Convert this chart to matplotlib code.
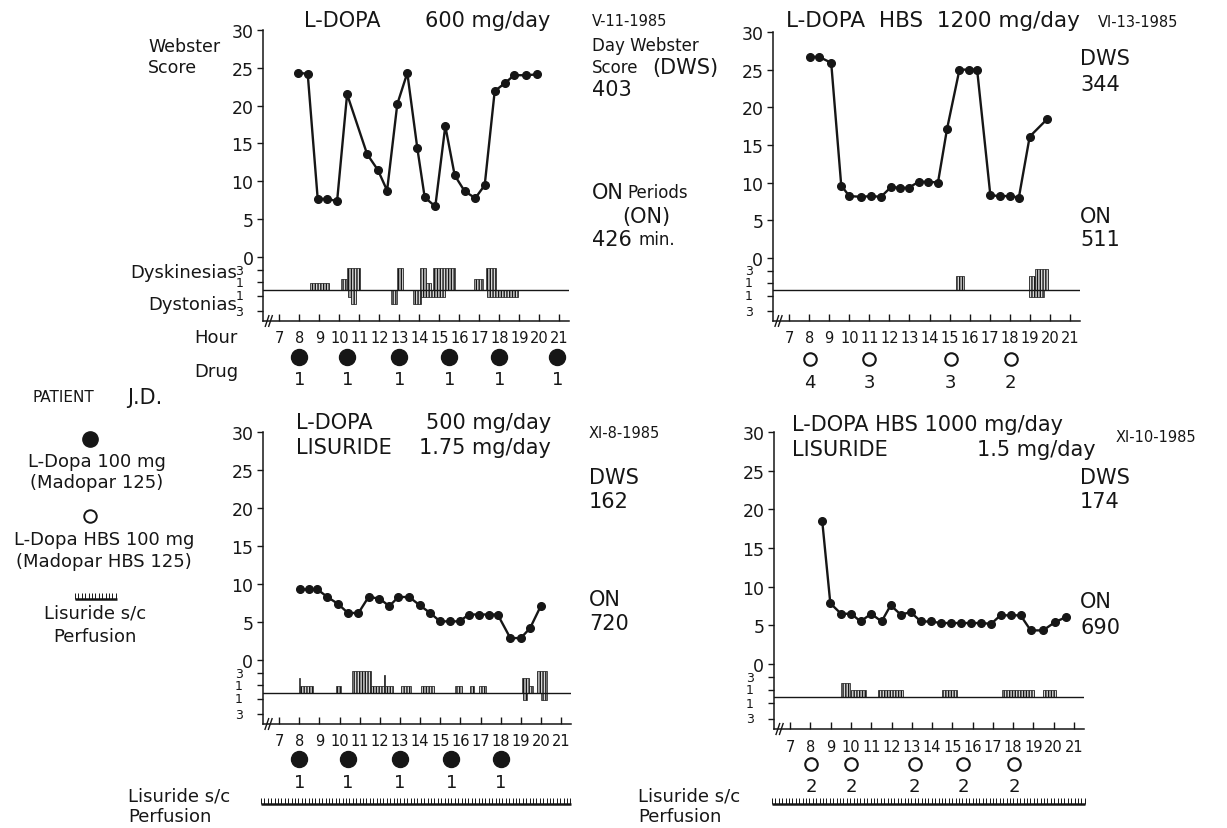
import numpy as np
import matplotlib
matplotlib.use('Agg')
import matplotlib.pyplot as plt
from matplotlib import font_manager
from matplotlib.transforms import blended_transform_factory

# Webster score readings, hour of day vs score
tl_hours = [7.95, 8.42, 8.92, 9.39, 9.89, 10.39, 11.39, 11.93, 12.39, 12.9, 13.4, 13.9,
            14.27, 14.8, 15.3, 15.77, 16.27, 16.8, 17.27, 17.77, 18.3, 18.74, 19.33, 19.86]
tl_score = [24.3, 24.2, 7.7, 7.7, 7.4, 21.5, 13.6, 11.5, 8.8, 20.2, 24.3, 14.4,
            7.9, 6.7, 17.3, 10.8, 8.7, 7.8, 9.5, 21.9, 23.0, 24.0, 24.0, 24.1]

tr_hours = [8.05, 8.5, 9.1, 9.6, 10.0, 10.59, 11.09, 11.58, 12.08, 12.55, 12.96, 13.46,
            13.93, 14.42, 14.87, 15.49, 15.95, 16.37, 17.03, 17.53, 18.03, 18.45, 18.99, 19.85]
tr_score = [26.7, 26.7, 25.9, 9.6, 8.2, 8.1, 8.2, 8.1, 9.4, 9.3, 9.3, 10.1,
            10.1, 10.0, 17.1, 25.0, 25.0, 25.0, 8.3, 8.2, 8.2, 8.0, 16.1, 18.4]

bl_hours = [8.03, 8.48, 8.9, 9.4, 9.92, 10.42, 10.94, 11.44, 11.98, 12.47, 12.92, 13.46,
            13.99, 14.5, 14.99, 15.47, 15.96, 16.42, 16.91, 17.41, 17.85, 18.48, 19.0, 19.46, 19.99]
bl_score = [9.3, 9.3, 9.3, 8.3, 7.4, 6.2, 6.2, 8.3, 8.1, 7.1, 8.3, 8.3,
            7.2, 6.2, 5.1, 5.1, 5.1, 6.0, 6.0, 6.0, 6.0, 2.9, 2.9, 4.2, 7.1]

br_hours = [8.58, 8.98, 9.51, 10.02, 10.47, 11.0, 11.51, 11.96, 12.45, 12.95, 13.45, 13.94,
            14.44, 14.93, 15.43, 15.93, 16.42, 16.92, 17.38, 17.88, 18.37, 18.87, 19.48, 20.06, 20.59]
br_score = [18.5, 7.85, 6.5, 6.5, 5.5, 6.5, 5.5, 7.6, 6.4, 6.7, 5.5, 5.5,
            5.3, 5.3, 5.3, 5.3, 5.3, 5.2, 6.3, 6.3, 6.3, 4.35, 4.35, 5.4, 6.05]

# dyskinesia / dystonia episodes: (start hour, end hour, intensity)
tl_dysk = [(8.53, 9.5, 1), (10.06, 10.4, 1.5), (10.4, 11.03, 3), (12.9, 13.16, 3),
           (14.02, 14.35, 3), (14.35, 14.6, 1), (14.69, 15.77, 3), (16.72, 17.18, 1.5),
           (17.35, 17.85, 3)]
tl_dyst = [(10.45, 10.6, 1), (10.6, 10.83, 2), (12.6, 12.9, 2), (13.69, 14.1, 2),
           (14.1, 15.27, 1), (17.38, 18.93, 1)]

tr_dysk = [(15.31, 15.71, 2), (18.94, 19.25, 2), (19.25, 19.92, 3)]
tr_dyst = [(18.94, 19.7, 1)]

bl_dysk = [(7.99, 8.03, 2), (8.03, 8.66, 1), (9.81, 10.09, 1), (10.63, 11.57, 3),
           (11.57, 12.2, 1), (12.2, 12.25, 2.5), (12.25, 12.64, 1), (13.05, 13.54, 1),
           (14.04, 14.7, 1), (15.73, 16.09, 1), (16.5, 16.7, 1), (16.91, 17.28, 1),
           (19.05, 19.43, 2), (19.43, 19.63, 1), (19.82, 20.29, 3)]
bl_dyst = [(19.13, 19.33, 1), (19.99, 20.29, 1)]

br_dysk = [(9.53, 9.93, 2), (9.98, 10.72, 1), (11.35, 12.57, 1), (14.49, 15.21, 1),
           (17.46, 19.02, 1), (19.48, 20.11, 1)]
br_dyst = []

# drug intake: hour and number of tablets
tl_drug_hours = [8.0, 10.4, 13.0, 15.5, 18.0, 20.9]
tl_drug_units = [1, 1, 1, 1, 1, 1]
tr_drug_hours = [8.05, 11.0, 15.05, 18.05]
tr_drug_units = [4, 3, 3, 2]
bl_drug_hours = [8.0, 10.4, 13.0, 15.55, 18.0]
bl_drug_units = [1, 1, 1, 1, 1]
br_drug_hours = [8.05, 10.0, 13.15, 15.55, 18.05]
br_drug_units = [2, 2, 2, 2, 2]

hour_labels = list(range(7, 22))
score_ticks = [0, 5, 10, 15, 20, 25, 30]

W, H = 1227, 829
INK = '#161616'
BASE = -4.3     # dyskinesia/dystonia zero line
LEVEL = 0.95    # height of one intensity step
YMIN = -8.4

plt.rcParams['font.family'] = 'DejaVu Sans'
plt.rcParams['hatch.linewidth'] = 1.0
plt.rcParams['hatch.color'] = INK
names = {f.name for f in font_manager.fontManager.ttflist}
if 'Liberation Sans Narrow' in names:
    HOUR_FONT, HOUR_SIZE = 'Liberation Sans Narrow', 13.5
else:
    HOUR_FONT, HOUR_SIZE = 'DejaVu Sans', 10.5

fig = plt.figure(figsize=(W / 100, H / 100), dpi=100)
fig.patch.set_facecolor('white')

# overlay in pixel coordinates for the free text
ov = fig.add_axes([0, 0, 1, 1])
ov.set_xlim(0, W)
ov.set_ylim(H, 0)
ov.axis('off')


def txt(x, y, s, size=13, ha='left', **kw):
    ov.text(x, y, s, fontsize=size, ha=ha, va='center', color=INK, **kw)


def perfusion(x0, x1, y):
    ov.hlines(y, x0, x1, color=INK, lw=1.8)
    ov.vlines(np.arange(x0, x1, 3.4), y - 6, y, color=INK, lw=0.7)


def episodes(ax, spans, sign):
    for s, e, lv in spans:
        ax.bar(s, sign * lv * LEVEL, e - s, bottom=BASE, align='edge',
               facecolor='#d8d8d8', edgecolor=INK, hatch='||||||', lw=0.5)


def panel(left, top, bottom, px_hr, hours, score, dysk, dyst,
          drug_hours, drug_units, filled, hour_y, circle_y, unit_y):
    width = 15.3 * px_hr
    ax = fig.add_axes([left / W, 1 - bottom / H, width / W, (bottom - top) / H])
    ax.set_xlim(6.2, 21.5)
    ax.set_ylim(YMIN, 30)
    ax.patch.set_alpha(0)
    for s in ('top', 'right'):
        ax.spines[s].set_visible(False)
    for s in ('left', 'bottom'):
        ax.spines[s].set_linewidth(1.1)
        ax.spines[s].set_color(INK)

    ax.plot(hours, score, '-o', color=INK, lw=1.7, ms=5.5, zorder=3)

    ax.axhline(BASE, color=INK, lw=1.0)
    episodes(ax, dysk, 1)
    episodes(ax, dyst, -1)

    small = [-1.7, -3.3, -5.05, -7.1]
    ax.set_yticks(score_ticks + small)
    ax.set_yticklabels([str(t) for t in score_ticks] + [''] * len(small))
    ax.tick_params(axis='y', direction='out', length=4, width=1, pad=3,
                   labelsize=12.5, colors=INK)
    yt = ax.get_yaxis_transform()
    for yv, lab in zip(small, ['3', '1', '1', '3']):
        ax.text(-0.066, yv, lab, transform=yt, ha='right', va='center',
                fontsize=9, color=INK)

    ax.set_xticks(hour_labels)
    ax.set_xticklabels([])
    ax.tick_params(axis='x', direction='in', length=5, width=1, colors=INK)

    # axis break on the hour axis
    for dx in (0.0, 0.17):
        ax.plot([6.3 + dx, 6.48 + dx], [YMIN - 0.7, YMIN + 0.7], color=INK,
                lw=1.0, clip_on=False)

    blend = blended_transform_factory(ax.transData, ov.transData)
    for h in hour_labels:
        ax.text(h, hour_y, str(h), transform=blend, ha='center', va='center',
                fontsize=HOUR_SIZE, family=HOUR_FONT, color=INK)
    if filled:
        ax.plot(drug_hours, [circle_y] * len(drug_hours), 'o', transform=blend,
                ms=11.5, color=INK, clip_on=False)
    else:
        ax.plot(drug_hours, [circle_y] * len(drug_hours), 'o', transform=blend,
                ms=9, mfc='white', mec=INK, mew=1.5, clip_on=False)
    for h, u in zip(drug_hours, drug_units):
        ax.text(h, unit_y, str(u), transform=blend, ha='center', va='center',
                fontsize=13, color=INK)
    return ax


panel(263.3, 30.7, 322, 20.0, tl_hours, tl_score, tl_dysk, tl_dyst,
      tl_drug_hours, tl_drug_units, True, 338, 358, 380)
panel(773, 33, 322, 20.07, tr_hours, tr_score, tr_dysk, tr_dyst,
      tr_drug_hours, tr_drug_units, False, 338, 360, 383)
panel(263, 433, 725, 20.14, bl_hours, bl_score, bl_dysk, bl_dyst,
      bl_drug_hours, bl_drug_units, True, 742, 760, 783)
panel(774, 433, 730, 20.26, br_hours, br_score, br_dysk, br_dyst,
      br_drug_hours, br_drug_units, False, 748, 765, 787)

# top left
txt(304, 21, 'L-DOPA', 15)
txt(550, 21, '600 mg/day', 15, ha='right')
txt(148, 47, 'Webster', 12.5)
txt(148, 68, 'Score', 12.5)
txt(592, 21, 'V-11-1985', 10.5)
txt(592, 46, 'Day Webster', 12)
txt(592, 68, 'Score', 12)
txt(652, 68, '(DWS)', 15)
txt(592, 90, '403', 15)
txt(592, 193, 'ON', 15)
txt(627, 193, 'Periods', 12)
txt(646, 217, '(ON)', 15, ha='center')
txt(592, 240, '426', 15)
txt(639, 240, 'min.', 12)
txt(237, 273, 'Dyskinesias', 13, ha='right')
txt(237, 305, 'Dystonias', 13, ha='right')
txt(238, 338, 'Hour', 13, ha='right')
txt(238, 372, 'Drug', 13, ha='right')

# top right
txt(786, 21, 'L-DOPA  HBS  1200 mg/day', 15.5)
txt(1098, 22, 'VI-13-1985', 10.5)
txt(1080, 59, 'DWS', 15)
txt(1080, 85, '344', 15)
txt(1080, 217, 'ON', 15)
txt(1080, 240, '511', 15)

# bottom left
txt(296, 423, 'L-DOPA', 15)
txt(551, 423, '500 mg/day', 15, ha='right')
txt(296, 448, 'LISURIDE', 15)
txt(551, 448, '1.75 mg/day', 15, ha='right')
txt(589, 433, 'XI-8-1985', 10.5)
txt(589, 478, 'DWS', 15)
txt(589, 502, '162', 15)
txt(589, 600, 'ON', 15)
txt(589, 624, '720', 15)
txt(128, 797, 'Lisuride s/c', 13)
txt(128, 817, 'Perfusion', 13)
perfusion(261, 571, 805)

# bottom right
txt(792, 425, 'L-DOPA HBS 1000 mg/day', 15)
txt(792, 450, 'LISURIDE', 15)
txt(1096, 450, '1.5 mg/day', 15, ha='right')
txt(1116, 437, 'XI-10-1985', 10.5)
txt(1080, 478, 'DWS', 15)
txt(1080, 502, '174', 15)
txt(1080, 602, 'ON', 15)
txt(1080, 628, '690', 15)
txt(638, 797, 'Lisuride s/c', 13)
txt(638, 817, 'Perfusion', 13)
perfusion(772, 1085, 805)

# key
txt(32, 398, 'PATIENT', 11)
txt(127, 398, 'J.D.', 15)
ov.plot(90, 440, 'o', ms=11, color=INK)
txt(97, 462, 'L-Dopa 100 mg', 13, ha='center')
txt(97, 483, '(Madopar 125)', 13, ha='center')
ov.plot(90, 517, 'o', ms=9, mfc='white', mec=INK, mew=1.4)
txt(104, 540, 'L-Dopa HBS 100 mg', 13, ha='center')
txt(104, 562, '(Madopar HBS 125)', 13, ha='center')
perfusion(75, 117, 600)
txt(95, 614, 'Lisuride s/c', 13, ha='center')
txt(95, 637, 'Perfusion', 13, ha='center')

fig.savefig('out.png', dpi=100, facecolor='white')
